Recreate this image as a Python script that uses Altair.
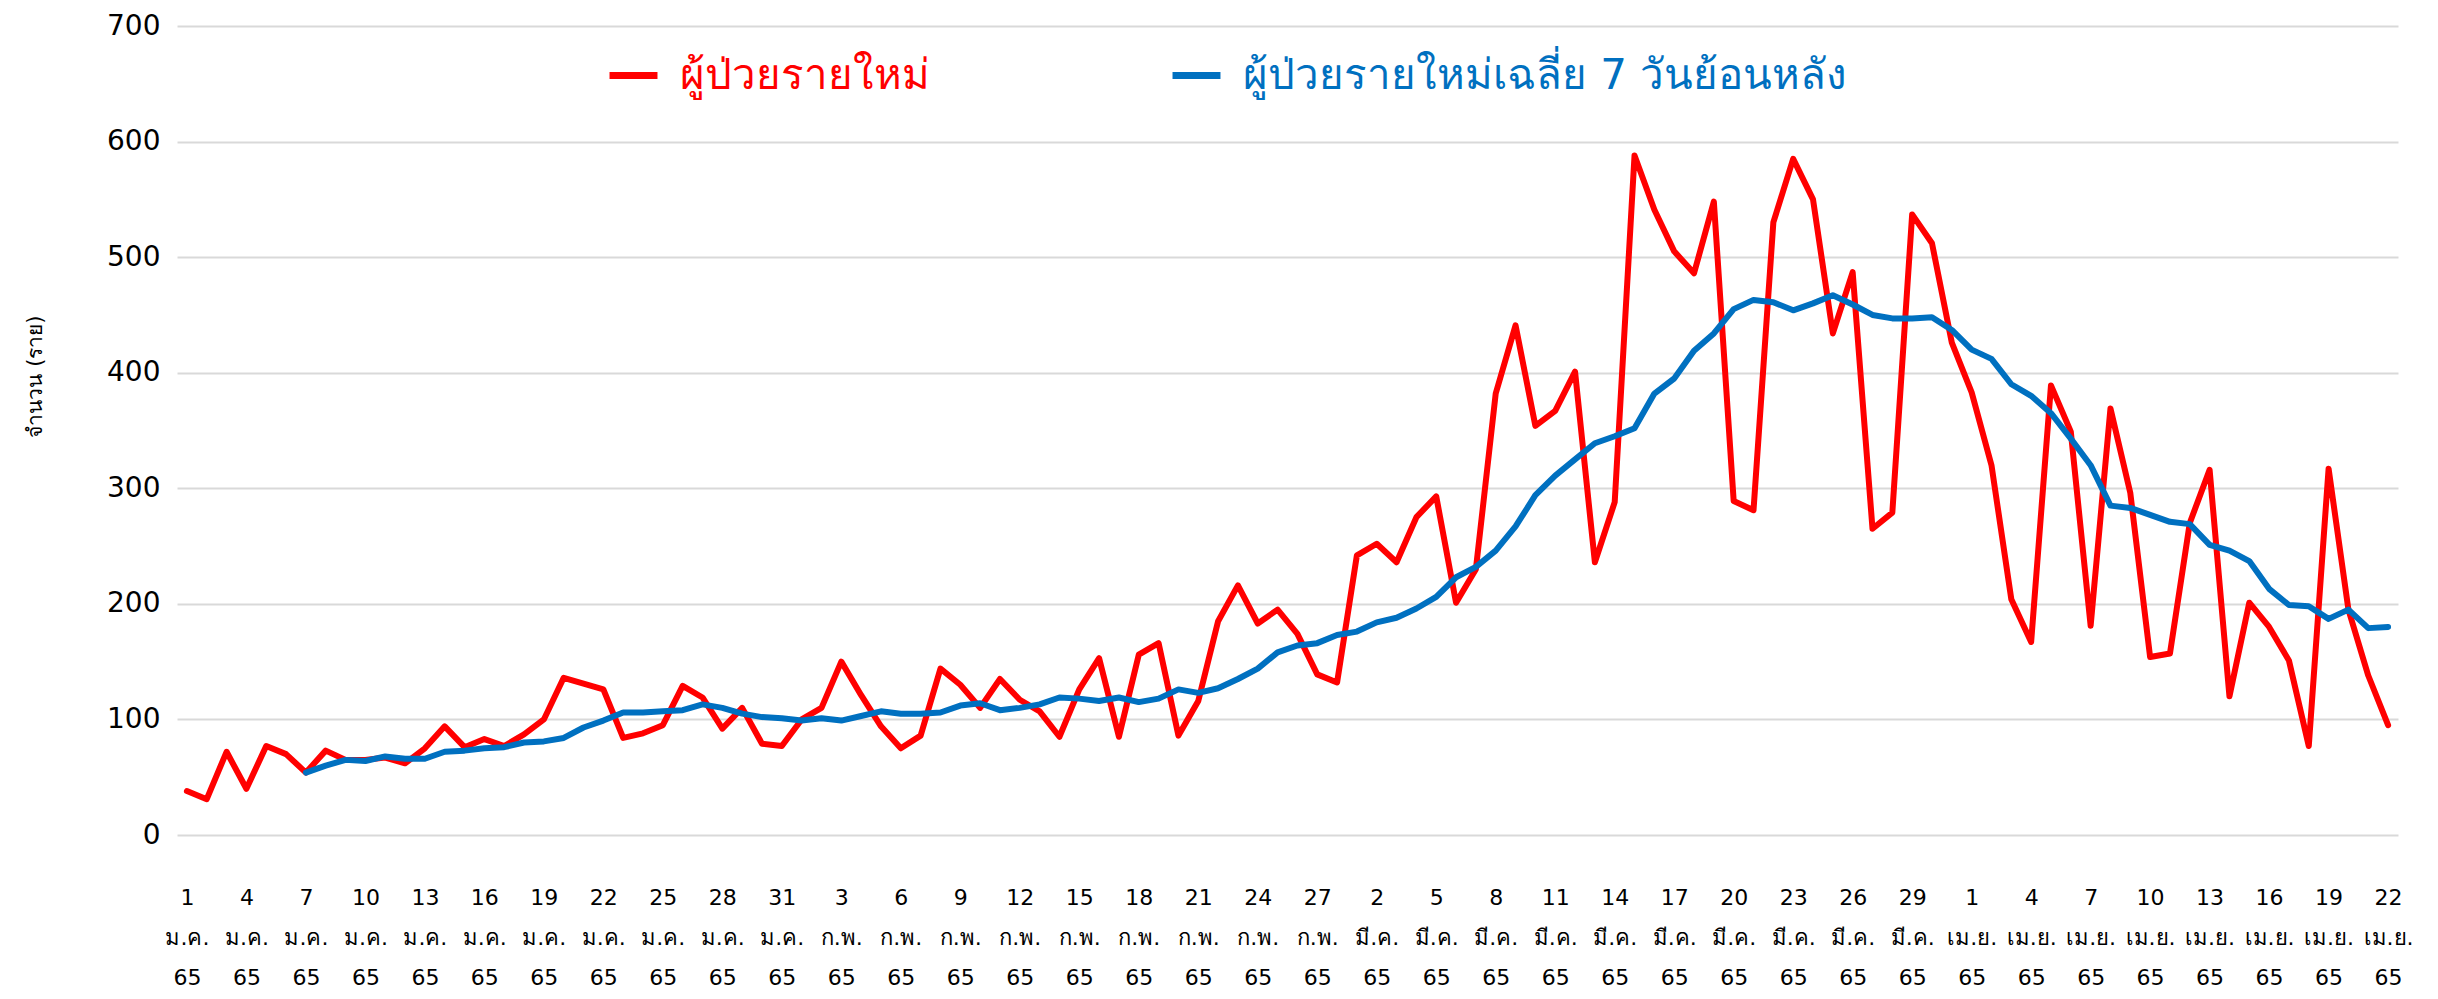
import json
import altair as alt
import pandas as pd

# ---- data ----
day_index = list(range(1, 113))  # 1 ม.ค. 65 ... 22 เม.ย. 65

new_cases = [38, 31, 72, 40, 77, 70, 54, 73, 65, 65,
             67, 62, 75, 94, 76, 83, 77, 87, 100, 136,
             131, 126, 84, 88, 95, 129, 119, 92, 110, 79,
             77, 100, 110, 150, 121, 94, 75, 86, 144, 130,
             110, 135, 117, 107, 85, 126, 153, 85, 156, 166,
             86, 116, 185, 216, 183, 195, 174, 139, 132, 242,
             252, 236, 275, 293, 201, 230, 382, 441, 354, 367,
             401, 236, 288, 588, 541, 505, 486, 548, 289, 281,
             530, 585, 550, 434, 487, 265, 279, 537, 512, 426,
             383, 320, 204, 167, 389, 349, 181, 369, 296, 154,
             157, 270, 316, 120, 201, 180, 151, 77, 317, 195,
             138, 95]

avg7 = [None, None, None, None, None, None, 54, 60, 65, 64,
        68, 66, 66, 72, 73, 75, 76, 80, 81, 84,
        93, 99, 106, 106, 107, 108, 113, 110, 105, 102,
        101, 99, 101, 99, 103, 107, 105, 105, 106, 112,
        114, 108, 110, 113, 119, 118, 116, 119, 115, 118,
        126, 123, 127, 135, 144, 158, 164, 166, 173, 176,
        184, 188, 196, 206, 223, 232, 246, 267, 294, 311,
        325, 339, 345, 352, 382, 395, 419, 434, 455, 463,
        461, 454, 460, 467, 459, 450, 447, 447, 448, 437,
        420, 412, 390, 380, 365, 343, 320, 285, 283, 277,
        271, 269, 251, 246, 237, 213, 199, 198, 187, 195,
        179, 180]

tick_days = [1, 4, 7, 10, 13, 16, 19, 22, 25, 28, 31,
             34, 37, 40, 43, 46, 49, 52, 55, 58,
             61, 64, 67, 70, 73, 76, 79, 82, 85, 88,
             91, 94, 97, 100, 103, 106, 109, 112]
tick_dates = ["1", "4", "7", "10", "13", "16", "19", "22", "25", "28", "31",
              "3", "6", "9", "12", "15", "18", "21", "24", "27",
              "2", "5", "8", "11", "14", "17", "20", "23", "26", "29",
              "1", "4", "7", "10", "13", "16", "19", "22"]
tick_months = (["ม.ค."] * 11 + ["ก.พ."] * 9 + ["มี.ค."] * 10 + ["เม.ย."] * 8)
tick_year = "65"

series_red = "ผู้ป่วยรายใหม่"
series_blue = "ผู้ป่วยรายใหม่เฉลี่ย 7 วันย้อนหลัง"
y_title = "จำนวน (ราย)"

RED = "#FF0000"
BLUE = "#0070C0"
FONT = "DejaVu Sans"

df_red = pd.DataFrame({"day": day_index, "value": new_cases, "series": series_red})
df_blue = pd.DataFrame({"day": day_index, "value": avg7, "series": series_blue}).dropna()

label_arrays = [[d, m, tick_year] for d, m in zip(tick_dates, tick_months)]
label_expr = json.dumps(label_arrays, ensure_ascii=False) + "[round((datum.value - 1) / 3)]"

x_enc = alt.X(
    "day:Q",
    scale=alt.Scale(domain=[0.5, 112.5], nice=False, zero=False),
    axis=alt.Axis(
        values=tick_days,
        labelExpr=label_expr,
        grid=False,
        domain=False,
        ticks=False,
        labelFont=FONT,
        labelFontSize=22,
        labelColor="#000000",
        labelBaseline="top",
        labelLineHeight=40,
        labelPadding=52,
        labelAngle=0,
        labelFlush=False,
        labelOverlap=False,
        title=None,
    ),
)

y_enc = alt.Y(
    "value:Q",
    scale=alt.Scale(domain=[0, 700], nice=False),
    axis=alt.Axis(
        values=[0, 100, 200, 300, 400, 500, 600, 700],
        grid=True,
        gridColor="#d9d9d9",
        gridWidth=2,
        domain=False,
        ticks=False,
        labelFont=FONT,
        labelFontSize=28,
        labelColor="#000000",
        labelPadding=17,
        title=y_title,
        titleFont=FONT,
        titleFontSize=21,
        titleFontWeight="normal",
        titleColor="#000000",
        titleX=-132,
        titleY=350,
        titleAngle=270,
    ),
)

legend_common = dict(
    orient="none", legendY=22, direction="horizontal",
    symbolType="stroke", symbolStrokeWidth=7, symbolSize=2300,
    labelFont=FONT, labelFontSize=42, labelFontWeight="normal",
    labelOffset=19, labelLimit=1000, padding=0,
)

red_line = alt.Chart(df_red).mark_line(strokeWidth=6, strokeCap="round", strokeJoin="round").encode(
    x=x_enc,
    y=y_enc,
    color=alt.Color(
        "series:N",
        scale=alt.Scale(domain=[series_red], range=[RED]),
        title=None,
        legend=alt.Legend(legendX=429, labelColor=RED, **legend_common),
    ),
)

blue_line = alt.Chart(df_blue).mark_line(strokeWidth=6, strokeCap="round", strokeJoin="round").encode(
    x=x_enc,
    y=y_enc,
    stroke=alt.Stroke(
        "series:N",
        scale=alt.Scale(domain=[series_blue], range=[BLUE]),
        title=None,
        legend=alt.Legend(legendX=992, labelColor=BLUE, **legend_common),
    ),
)

chart = alt.layer(red_line, blue_line).properties(
    width=2221,
    height=809,
    autosize=alt.AutoSizeParams(type="none"),
    padding={"left": 169, "top": 18, "right": 30, "bottom": 154},
    background="white",
).configure_view(stroke=None)

chart.save("out.html", embed_options={"renderer": "svg", "actions": False})
